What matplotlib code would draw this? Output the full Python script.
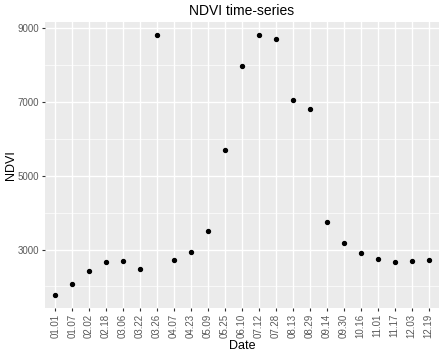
import numpy as np
import matplotlib
matplotlib.use("Agg")
import matplotlib.pyplot as plt

plt.rcParams['font.family'] = ['Liberation Sans', 'DejaVu Sans']

dates = ["01.01", "01.07", "02.02", "02.18", "03.06", "03.22", "03.26", "04.07",
         "04.23", "05.09", "05.25", "06.10", "07.12", "07.28", "08.13", "08.29",
         "09.14", "09.30", "10.16", "11.01", "11.17", "12.03", "12.19"]
ndvi = [1775, 2055, 2405, 2665, 2685, 2475, 8810, 2705,
        2945, 3515, 5710, 7975, 8810, 8720, 7060, 6820,
        3745, 3190, 2910, 2755, 2665, 2685, 2705]

fig = plt.figure(figsize=(4.45, 3.52), dpi=100)
W, H = 445, 352
ax = fig.add_axes([45 / W, 1 - 307.7 / H, (438.7 - 45) / W, (307.7 - 22.3) / H])

x = np.arange(len(dates))
ax.set_facecolor("#EBEBEB")
ax.scatter(x, ndvi, s=8, color="black", zorder=3)

ax.set_xlim(-0.6, len(dates) - 0.4)
lo, hi = min(ndvi), max(ndvi)
pad = (hi - lo) * 0.05
ax.set_ylim(lo - pad, hi + pad)

ax.set_xticks(x)
ax.set_xticklabels(dates, rotation=90)
ax.yaxis.set_major_locator(plt.FixedLocator([3000, 5000, 7000, 9000]))
ax.yaxis.set_minor_locator(plt.FixedLocator([2000, 4000, 6000, 8000]))

ax.grid(True, which="major", color="white", linewidth=1.0)
ax.grid(True, which="minor", axis="y", color="white", linewidth=0.5)
ax.set_axisbelow(True)
for s in ax.spines.values():
    s.set_visible(False)

ax.tick_params(axis="both", which="major", color="#333333", length=2.5, width=0.8,
               labelsize=7, labelcolor="#5A5A5A", pad=2)
ax.tick_params(axis="y", which="minor", length=0)

ax.set_xlabel("Date", fontsize=9, labelpad=1)
ax.set_ylabel("NDVI", fontsize=9)
ax.yaxis.set_label_coords(-0.072, 0.5)
ax.set_title("NDVI time-series", fontsize=10, pad=5)

fig.savefig("out.png", dpi=100)
